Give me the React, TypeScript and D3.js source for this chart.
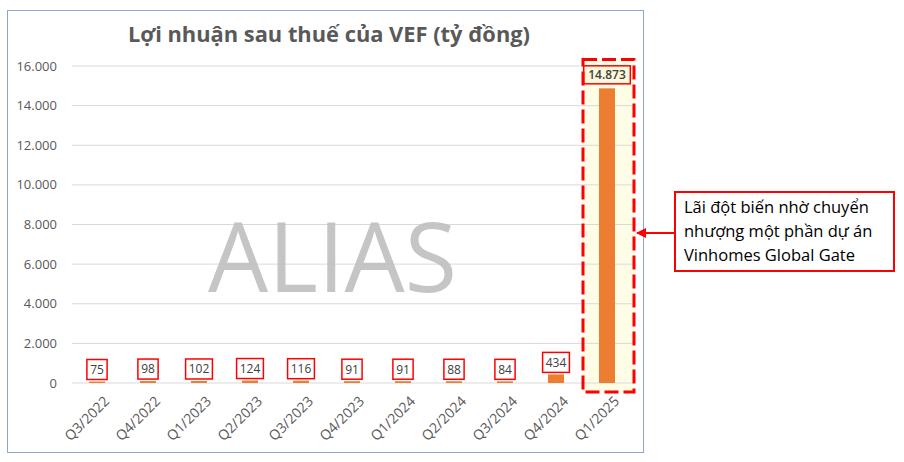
import React from "react";
import * as d3 from "d3";

const categories = ["Q3/2022", "Q4/2022", "Q1/2023", "Q2/2023", "Q3/2023", "Q4/2023", "Q1/2024", "Q2/2024", "Q3/2024", "Q4/2024", "Q1/2025"];
const profits = [75, 98, 102, 124, 116, 91, 91, 88, 84, 434, 14873];
const yTicks = [0, 2000, 4000, 6000, 8000, 10000, 12000, 14000, 16000];
const titleText = "Lợi nhuận sau thuế của VEF (tỷ đồng)";
const noteLines = ["Lãi đột biến nhờ chuyển", "nhượng một phần dự án", "Vinhomes Global Gate"];
const watermark = "ALIAS";

const fmt = d3.formatLocale({ decimal: ",", thousands: ".", grouping: [3], currency: ["", ""] }).format(",d");

const W = 904, H = 462;
const FONT = "'Open Sans', 'Noto Sans', sans-serif";

export default function App() {
  const x = d3.scaleBand<string>().domain(categories).range([71.5, 632.5]).paddingInner(0.686).paddingOuter(0.343);
  const y = d3.scaleLinear().domain([0, 16000]).range([383, 66]);
  const bw = x.bandwidth();
  const last = categories[categories.length - 1];
  const lastCx = (x(last) as number) + bw / 2;
  const hlLeft = lastCx - 24;
  const hlRight = lastCx + 27;
  const hlTop = y(16000) - 6.5;
  const hlBottom = y(0) + 9;

  return (
    <svg width={W} height={H} style={{ position: "absolute", left: 0, top: 0, background: "#fff" }} fontFamily={FONT}>
      <defs>
        <marker id="arr" viewBox="0 0 10 10" refX="9" refY="5" markerWidth="5" markerHeight="5" orient="auto-start-reverse">
          <path d="M0,0 L10,5 L0,10 z" fill="#ff0000" />
        </marker>
      </defs>
      <rect x={0} y={0} width={W} height={H} fill="#fff" />
      {/* chart frame */}
      <rect x={7.5} y={10.5} width={636} height={442} fill="#fff" stroke="#8ea4d2" strokeWidth={1} />

      {/* title */}
      <text x={329} y={42} textAnchor="middle" fontSize={22} fontWeight={700} fill="#595959" textLength={402} lengthAdjust="spacingAndGlyphs">
        {titleText}
      </text>

      {/* highlight background */}
      <rect x={hlLeft} y={hlTop} width={hlRight - hlLeft} height={hlBottom - hlTop} fill="#fffde6" />

      {/* gridlines */}
      {yTicks.map((t) => (
        <g key={t}>
          <line x1={72} x2={633} y1={y(t)} y2={y(t)} stroke="#d9d9d9" strokeWidth={1} />
          <text x={57} y={y(t)} dy="0.35em" textAnchor="end" fontSize={13} fill="#595959">
            {fmt(t)}
          </text>
        </g>
      ))}

      {/* watermark */}
      <text x={208} y={292} fontSize={97} fill="#bfbfbf" fillOpacity={0.9} textLength={249} lengthAdjust="spacingAndGlyphs">
        {watermark}
      </text>

      {/* bars */}
      {categories.map((c, i) => (
        <rect key={c} x={x(c)} y={y(profits[i])} width={bw} height={y(0) - y(profits[i])} fill="#ed7d31" />
      ))}

      {/* data labels */}
      {categories.map((c, i) => {
        const cx = (x(c) as number) + bw / 2;
        const label = fmt(profits[i]);
        const isLast = i === categories.length - 1;
        const w = label.length * 6.6 + 7;
        const h = isLast ? 18 : 20;
        const bottom = y(profits[i]) - (isLast ? 4.5 : 2);
        return (
          <g key={c}>
            <rect x={cx - w / 2} y={bottom - h} width={w} height={h} fill={isLast ? "#fdf9dc" : "#fff"} stroke="#ff0000" strokeWidth={1.5} />
            <text x={cx} y={bottom - h / 2} dy="0.36em" textAnchor="middle" fontSize={12} fill="#404040" fontWeight={isLast ? 600 : 400}>
              {label}
            </text>
          </g>
        );
      })}

      {/* x labels */}
      {categories.map((c) => {
        const cx = (x(c) as number) + bw / 2;
        return (
          <text key={c} transform={`translate(${cx + 6},${395}) rotate(-45)`} textAnchor="end" dy="0.72em" fontSize={14} fill="#595959">
            {c}
          </text>
        );
      })}

      {/* dashed highlight border */}
      <rect x={hlLeft} y={hlTop} width={hlRight - hlLeft} height={hlBottom - hlTop} fill="none" stroke="#ff0000" strokeWidth={3} strokeDasharray="14 5" />

      {/* annotation */}
      <rect x={675} y={192} width={219} height={79} fill="#fff" stroke="#ff0000" strokeWidth={2} />
      {noteLines.map((l, i) => (
        <text key={i} x={684} y={213 + i * 24} fontSize={16.5} fill="#000">
          {l}
        </text>
      ))}
      <line x1={675} y1={233} x2={637} y2={233} stroke="#ff0000" strokeWidth={2} markerEnd="url(#arr)" />
    </svg>
  );
}
